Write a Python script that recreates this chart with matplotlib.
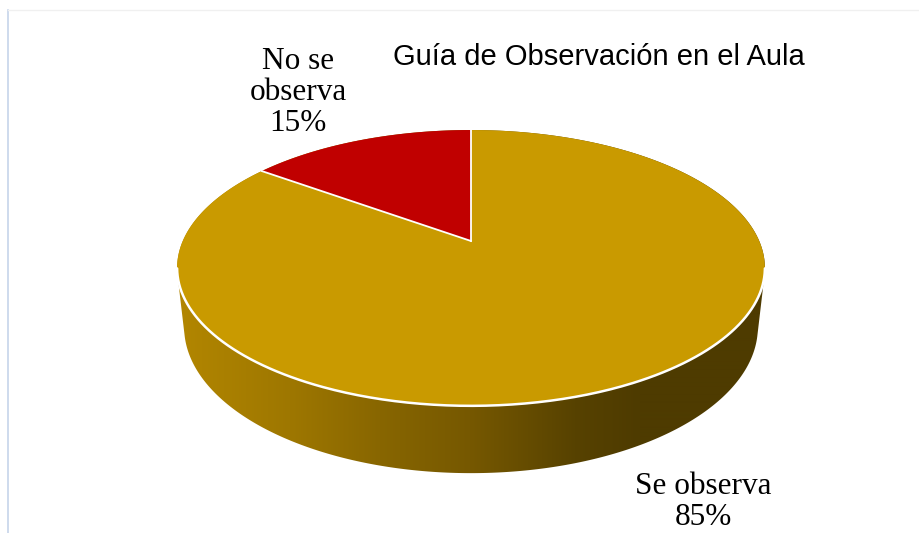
import numpy as np
import matplotlib
matplotlib.use("Agg")
import matplotlib.pyplot as plt
from matplotlib.patches import Polygon
from matplotlib.colors import to_rgb

# ---- data ----
categories = ["Se observa", "No se observa"]
values = [85, 15]
title = "Guía de Observación en el Aula"

# ---- style / layout ----
top_colors = ["#C99A00", "#C00000"]
side_stops_x = [180, 290, 380, 470, 575, 640, 765]
side_stops_c = ["#B28600", "#9E7700", "#886600", "#765800", "#574200", "#4E3B00", "#4E3B00"]
cx, cy = 471, 241          # projected pie centre (pixels)
elev = np.radians(27.4)    # viewing elevation
dist = 4.545               # camera distance in pie radii
height = 0.233             # pie thickness in pie radii
scale = 1310.0             # focal length in pixels
label_pos = [(703, 525), (298, 131)]
label_wrap = ["Se observa", "No se\nobserva"]

fig = plt.figure(figsize=(9.2, 5.33), dpi=100)
ax = fig.add_axes([0, 0, 1, 1])
ax.set_xlim(0, 920)
ax.set_ylim(533, 0)
ax.axis("off")

# frame lines
ax.plot([8.5, 8.5], [10, 533], color="#C6D4EA", lw=1.2)
ax.plot([8.5, 920], [10, 10], color="#F0F0F0", lw=1.0)


def project(phi, z=0.0):
    """Perspective projection of a point on the unit circle at angle phi, height z."""
    X = np.cos(phi)
    Y = -np.sin(phi)
    d = dist - (Y * np.cos(elev) + z * np.sin(elev))
    v = -Y * np.sin(elev) + z * np.cos(elev)
    return cx + scale * X / d, cy - scale * v / d


def hull(pts):
    pts = sorted(map(tuple, pts))
    def cross(o, p, q):
        return (p[0] - o[0]) * (q[1] - o[1]) - (p[1] - o[1]) * (q[0] - o[0])
    lower, upper = [], []
    for p in pts:
        while len(lower) >= 2 and cross(lower[-2], lower[-1], p) <= 0:
            lower.pop()
        lower.append(p)
    for p in reversed(pts):
        while len(upper) >= 2 and cross(upper[-2], upper[-1], p) <= 0:
            upper.pop()
        upper.append(p)
    return np.array(lower[:-1] + upper[:-1])


# side: hull of top and bottom rims, gradient clipped to it
t = np.linspace(0, 2 * np.pi, 720, endpoint=False)
xt, yt = project(t, 0.0)
xb, yb = project(t, -height)
side_xy = hull(np.column_stack([np.concatenate([xt, xb]), np.concatenate([yt, yb])]))
side_patch = Polygon(side_xy, closed=True, facecolor="none", edgecolor="none")
ax.add_patch(side_patch)
xs = np.arange(0, 920)
cols = np.array([to_rgb(c) for c in side_stops_c])
grad = np.stack([np.interp(xs, side_stops_x, cols[:, k]) for k in range(3)], axis=-1)
img = np.repeat(grad[None, :, :], 2, axis=0)
im = ax.imshow(img, extent=(0, 920, 533, 0), aspect="auto", zorder=1,
               interpolation="bilinear")
im.set_clip_path(side_patch)
ax.set_xlim(0, 920)
ax.set_ylim(533, 0)

# white rim along the front top edge
tf = np.linspace(np.pi + 0.2, 2 * np.pi - 0.2, 300)
fx, fy = project(tf, 0.0)
ax.plot(fx, fy, color="white", lw=1.8, zorder=4, solid_capstyle="round")

# top wedges (clockwise from 12 o'clock)
total = float(sum(values))
start = np.pi / 2
for val, col in zip(values, top_colors):
    sweep = 2 * np.pi * val / total
    tt = np.linspace(start, start - sweep, 500)
    x, y = project(tt, 0.0)
    poly = np.column_stack([np.concatenate([[cx], x]), np.concatenate([[cy], y])])
    ax.add_patch(Polygon(poly, closed=True, facecolor=col, edgecolor="none", zorder=3))
    # white separator line at the wedge start
    sx, sy = project(np.array([start]), 0.0)
    ax.plot([cx, sx[0]], [cy, sy[0]], color="white", lw=1.3, zorder=4)
    start -= sweep

# labels
for (lx, ly), txt, val in zip(label_pos, label_wrap, values):
    ax.text(lx, ly, f"{txt}\n{val}%", ha="center", va="baseline", fontsize=22.5,
            family="Liberation Serif", color="black", linespacing=1.1, zorder=5)

ax.text(599, 65, title, ha="center", va="baseline", fontsize=21,
        family="Liberation Sans", color="black", zorder=5)

fig.savefig("out.png", dpi=100)
